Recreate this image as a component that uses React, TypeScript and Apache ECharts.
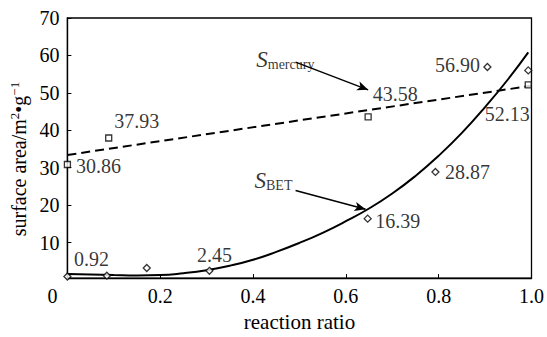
import React, { useEffect, useRef } from "react";
import * as echarts from "echarts";

// ---- data ----
const xTicks = [0, 0.2, 0.4, 0.6, 0.8, 1.0];
const yTicks = [10, 20, 30, 40, 50, 60, 70];

// S_BET measured points
const betX = [0, 0.085, 0.171, 0.306, 0.647, 0.793, 0.905, 0.993];
const betY = [0.92, 1.15, 3.2, 2.45, 16.39, 28.87, 56.9, 56.0];
const betLabeled = [true, false, false, true, true, true, true, false];

// S_mercury measured points
const hgX = [0, 0.089, 0.648, 0.993];
const hgY = [30.86, 37.93, 43.58, 52.13];

// fitted BET curve
const curveX = [0, 0.05, 0.1, 0.15, 0.2, 0.25, 0.3, 0.35, 0.4, 0.45, 0.5, 0.55, 0.6, 0.65, 0.7, 0.75, 0.8, 0.85, 0.9, 0.95, 0.993];
const curveY = [1.6, 1.45, 1.3, 1.2, 1.3, 1.8, 2.6, 3.8, 5.4, 7.5, 9.9, 12.6, 15.7, 19.1, 23.1, 27.8, 33.2, 39.3, 46.2, 53.7, 60.8];

// fitted mercury line (dashed)
const hgLineX = [0, 1.0];
const hgLineY = [33.4, 51.9];

// annotation texts and arrows (data coordinates)
const annText = ["{s|S}{sub|mercury}", "{s|S}{sub|BET}"];
const annX = [0.4696, 0.444];
const annY = [58.8, 26.5];
const arrowFrom = [[0.4916, 58.2], [0.4916, 23.9]];
const arrowTo = [[0.648, 50.8], [0.6425, 18.9]];

// ---- label offsets (style) ----
const betOffsets: number[][] = [[24, -18], [0, 0], [0, 0], [5, -16], [30, 2], [32, 0], [-30, -2], [0, 0]];
const hgOffsets: number[][] = [[31, 2], [28, -17], [27, -23], [-21, 29]];

const FONT = "Liberation Serif";
const T = { fontFamily: FONT, fontSize: 20, color: "#000" };

export default function App() {
  const ref = useRef<HTMLDivElement>(null);
  useEffect(() => {
    if (!ref.current) return;
    const chart = echarts.init(ref.current, null, { renderer: "svg" });
    const labelBase = {
      show: true,
      position: "inside" as const,
      ...T,
      formatter: (p: any) => "{t|" + Number(p.value[1]).toFixed(2) + "}",
      rich: { t: T },
    };
    const option: any = {
      animation: false,
      backgroundColor: "#fff",
      textStyle: { fontFamily: FONT },
      grid: {
        left: 63,
        right: 15.5,
        top: 18,
        bottom: 52,
        show: true,
        borderColor: "#000",
        borderWidth: 1.3,
      },
      xAxis: {
        type: "value",
        min: 0,
        max: 1,
        interval: 0.2,
        name: "{t|reaction ratio}",
        nameLocation: "middle",
        nameGap: 32,
        nameTextStyle: { ...T, fontSize: 21, rich: { t: { ...T, fontSize: 21 } } },
        axisLine: { show: true, lineStyle: { color: "#000", width: 1.3 } },
        axisTick: { show: true, inside: true, length: 4, lineStyle: { color: "#000" } },
        axisLabel: {
          ...T,
          margin: 8,
          formatter: (v: number) => (v === 0 ? "{z|0}" : "{t|" + v.toFixed(1) + "}"),
          rich: { t: T, z: { ...T, padding: [0, 30, 0, 0] } },
          customValues: xTicks,
        },
        splitLine: { show: false },
      },
      yAxis: {
        type: "value",
        min: 0.5,
        max: 70,
        name: "{t|surface area/m}{sup|2}{t|•g}{sup|−1}",
        nameLocation: "middle",
        nameGap: 38,
        nameTextStyle: {
          ...T,
          padding: [0, 22, 0, 0],
          rich: {
            t: T,
            sup: { fontFamily: FONT, fontSize: 13, color: "#000", verticalAlign: "top", padding: [0, 0, 8, 0] },
          },
        },
        axisLine: { show: true, lineStyle: { color: "#000", width: 1.3 } },
        axisTick: { show: true, inside: true, length: 4, lineStyle: { color: "#000" }, customValues: yTicks },
        axisLabel: {
          ...T,
          margin: 8,
          customValues: yTicks,
          formatter: (v: number) => "{t|" + v + "}",
          rich: { t: T },
        },
        splitLine: { show: false },
      },
      series: [
        {
          type: "line",
          data: curveX.map((x, i) => [x, curveY[i]]),
          smooth: true,
          showSymbol: false,
          lineStyle: { color: "#000", width: 2 },
          silent: true,
          z: 2,
        },
        {
          type: "line",
          data: hgLineX.map((x, i) => [x, hgLineY[i]]),
          showSymbol: false,
          lineStyle: { color: "#000", width: 2, type: [9, 5] },
          silent: true,
          z: 2,
        },
        {
          type: "scatter",
          symbol: "diamond",
          symbolSize: 7,
          itemStyle: { color: "#fff", borderColor: "#000", borderWidth: 1.3 },
          data: betX.map((x, i) => ({
            value: [x, betY[i]],
            label: betLabeled[i] ? { ...labelBase, offset: betOffsets[i] } : { show: false },
          })),
          z: 3,
        },
        {
          type: "scatter",
          symbol: "rect",
          symbolSize: 6,
          itemStyle: { color: "#fff", borderColor: "#000", borderWidth: 1.3 },
          data: hgX.map((x, i) => ({
            value: [x, hgY[i]],
            label: { ...labelBase, offset: hgOffsets[i] },
          })),
          z: 3,
        },
        {
          type: "scatter",
          symbolSize: 0,
          silent: true,
          data: annX.map((x, i) => ({ value: [x, annY[i]], name: annText[i] })),
          label: {
            show: true,
            position: "inside",
            formatter: (p: any) => p.name,
            rich: {
              s: { fontFamily: FONT, fontSize: 23, fontStyle: "italic", color: "#000" },
              sub: { fontFamily: FONT, fontSize: 14, color: "#000", verticalAlign: "bottom", padding: [6, 0, 0, 0] },
            },
          },
          markLine: {
            silent: true,
            symbol: ["none", "arrow"],
            symbolSize: [7, 11],
            lineStyle: { color: "#000", width: 1.5, type: "solid" },
            label: { show: false },
            data: arrowFrom.map((f, i) => [{ coord: f }, { coord: arrowTo[i] }]),
          },
          z: 4,
        },
      ],
    };
    chart.setOption(option);
    return () => chart.dispose();
  }, []);
  return <div ref={ref} style={{ position: "fixed", left: 0, top: 0, width: 547, height: 337 }} />;
}
